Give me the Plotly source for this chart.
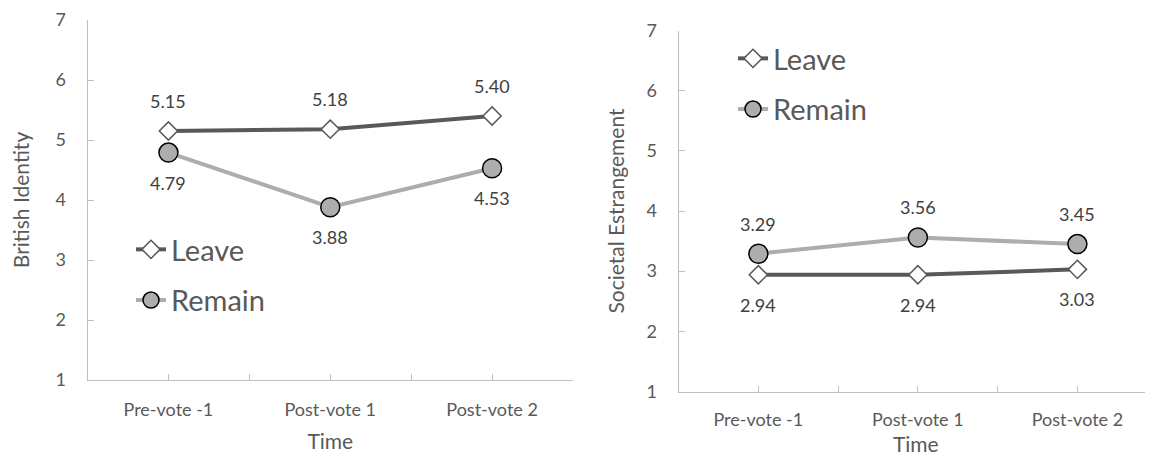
import plotly.graph_objects as go

categories = ["Pre-vote -1", "Post-vote 1", "Post-vote 2"]
series_names = ["Leave", "Remain"]
british_leave = [5.15, 5.18, 5.40]
british_remain = [4.79, 3.88, 4.53]
societal_leave = [2.94, 2.94, 3.03]
societal_remain = [3.29, 3.56, 3.45]
y_ticks = [1, 2, 3, 4, 5, 6, 7]
y_titles = ["British Identity", "Societal Estrangement"]
x_title = "Time"

FONT = "Lato"
TXT = "#595959"
LBL = "#404040"
AX = "#BFBFBF"

# page body has an 8px margin; figure is sized to fit the window
OFF = 8
W, H = 1153 - OFF, 457 - OFF


def fx(px):
    return (px - OFF) / W


def fy(py):
    return 1 - (py - OFF) / H


idx = list(range(len(categories)))
half_ticks = [i / 2 for i in range(2 * len(categories) - 1)]
half_text = [categories[int(t)] if t == int(t) else "" for t in half_ticks]

styles = {
    "Leave": dict(line=dict(color="#595959", width=4),
                  marker=dict(symbol="diamond", size=14, color="white",
                              line=dict(color="#595959", width=1.5))),
    "Remain": dict(line=dict(color="#ADADAD", width=4),
                   marker=dict(symbol="circle", size=19, color="#ADADAD",
                               line=dict(color="black", width=1.5))),
}

panels = [
    dict(xa="x", ya="y", legend="legend",
         data={"Leave": british_leave, "Remain": british_remain},
         side={"Leave": 1, "Remain": -1}),
    dict(xa="x2", ya="y2", legend="legend2",
         data={"Leave": societal_leave, "Remain": societal_remain},
         side={"Leave": -1, "Remain": 1}),
]

fig = go.Figure()
annotations = []
for p in panels:
    for gi, name in enumerate(series_names):
        vals = p["data"][name]
        fig.add_trace(go.Scatter(
            x=idx, y=vals, name=name, mode="lines+markers",
            xaxis=p["xa"], yaxis=p["ya"], legend=p["legend"],
            legendgroup=p["legend"] + name,
            line=styles[name]["line"], marker=styles[name]["marker"],
            hoverinfo="skip", cliponaxis=False,
        ))
        for xi, v in zip(idx, vals):
            annotations.append(dict(
                x=xi, y=v, xref=p["xa"], yref=p["ya"], text=f"{v:.2f}",
                showarrow=False, yshift=30 * p["side"][name],
                font=dict(family=FONT, size=18, color=LBL),
            ))

axis_common = dict(
    showgrid=False, zeroline=False, showline=True, linecolor=AX, linewidth=1,
    ticks="inside", ticklen=6, tickcolor=AX, automargin=False,
    tickfont=dict(family=FONT, size=18, color=TXT),
)
title_font = dict(family=FONT, size=21, color=TXT)
legend_font = dict(family=FONT, size=29, color=TXT)

fig.update_layout(
    width=W, height=H,
    margin=dict(l=0, r=0, t=0, b=0, autoexpand=False),
    paper_bgcolor="white", plot_bgcolor="white",
    showlegend=True,
    xaxis=dict(**axis_common, domain=[fx(87.5), fx(573)], range=[-0.5, 2.5],
               tickvals=half_ticks, ticktext=half_text, anchor="y",
               ticklabelstandoff=13,
               title=dict(text=x_title, font=title_font, standoff=15)),
    yaxis=dict(**axis_common, domain=[fy(380), fy(20)], range=[1, 7],
               tickvals=y_ticks, anchor="x", ticklabelstandoff=17,
               title=dict(text=y_titles[0], font=title_font, standoff=24)),
    xaxis2=dict(**axis_common, domain=[fx(678.6), 1.0], range=[-0.5, 2.474],
                tickvals=half_ticks, ticktext=half_text, anchor="y2",
                ticklabelstandoff=12,
                title=dict(text=x_title, font=title_font, standoff=8)),
    yaxis2=dict(**axis_common, domain=[fy(391.5), fy(30.5)], range=[1, 7],
                tickvals=y_ticks, anchor="x2", ticklabelstandoff=17,
                title=dict(text=y_titles[1], font=title_font, standoff=16)),
    legend=dict(x=fx(131), y=fy(224), xanchor="left", yanchor="top",
                bgcolor="rgba(0,0,0,0)", font=legend_font,
                tracegroupgap=10, itemwidth=30),
    legend2=dict(x=fx(733), y=fy(33), xanchor="left", yanchor="top",
                 bgcolor="rgba(0,0,0,0)", font=legend_font,
                 tracegroupgap=10, itemwidth=30),
    annotations=annotations,
)

fig.write_html("out.html")
